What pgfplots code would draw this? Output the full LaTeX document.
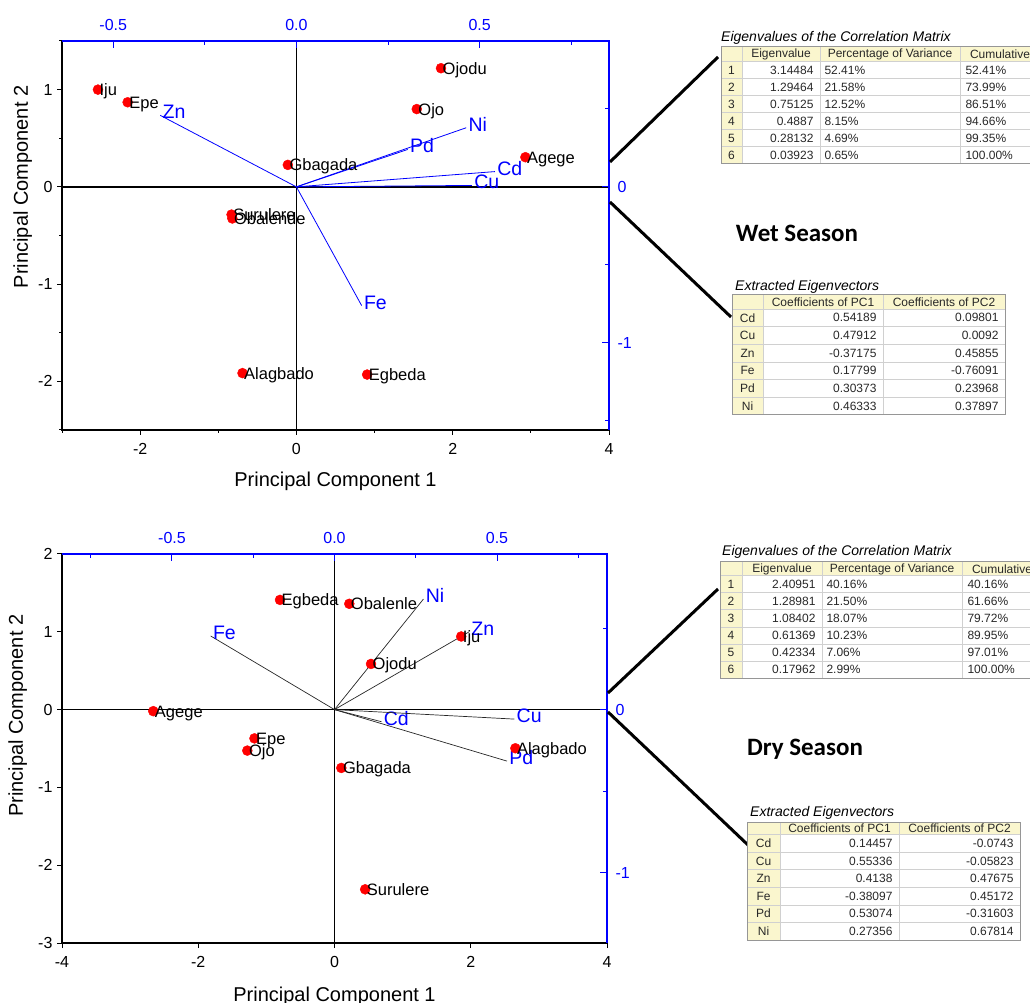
\documentclass[border=0pt]{standalone}
\usepackage{fontspec}
\setmainfont{Liberation Sans}
\newfontfamily\carlito{Carlito}
\usepackage{pgfplots}
\pgfplotsset{compat=1.18}
\definecolor{cream}{RGB}{250,246,206}
\definecolor{gridc}{RGB}{208,208,208}
\definecolor{borderc}{RGB}{150,150,150}
\definecolor{tabtext}{RGB}{40,40,40}

\newcommand\tickfont{\fontsize{16}{18}\selectfont}
\newcommand\labfont{\fontsize{20}{24}\selectfont}
\newcommand\ptfont{\fontsize{16.5}{19}\selectfont}
\newcommand\elfont{\fontsize{19.5}{22}\selectfont}
\newcommand\tabfont{\fontsize{12}{14}\selectfont}
\newcommand\tabtitle{\fontsize{14}{16}\selectfont\itshape}

\tikzset{el/.style={anchor=base west, inner sep=0pt, font=\elfont, text=blue, xshift=2pt, yshift=-3.5pt}}
\pgfplotsset{
  biplot/.style={anchor=south west, scale only axis, axis line style={draw=none},
    tick label style={font=\tickfont},
    /pgf/number format/assume math mode=true, clip=false},
  scores/.style={xtick pos=bottom, ytick pos=left, tick align=outside,
    major tick length=5pt, minor tick length=3pt,
    tick style={black, line width=1pt},
    xticklabel style={yshift=-5pt},
    yticklabel style={xshift=-1pt},
    xlabel={Principal Component 1}, ylabel={Principal Component 2}},
  loads/.style={xtick pos=top, ytick pos=right, tick align=inside,
    major tick length=7pt, minor tick length=4pt,
    tick style={blue, line width=1pt},
    tick label style={text=blue},
    xticklabel style={yshift=7pt, /pgf/number format/.cd, fixed, fixed zerofill, precision=1},
    yticklabel style={xshift=5pt}},
  pts/.style={only marks, mark=*, mark size=5pt, color=red,
    nodes near coords, point meta=explicit symbolic,
    nodes near coords style={anchor=base west, inner sep=0pt, xshift=1.5pt, yshift=-6pt,
      font=\ptfont, text=black}},
}

\begin{document}
\begin{tikzpicture}
\path[use as bounding box] (0,0) rectangle (1030pt,1002pt);

%================ WET SEASON ================
\begin{axis}[biplot, scores,
  at={(62pt,572pt)}, width=547pt, height=389pt,
  xmin=-3, xmax=4, ymin=-2.5, ymax=1.5,
  xtick={-2,0,2,4}, minor xtick={-3,-1,1,3},
  ytick={-2,-1,0,1}, minor ytick={-2.5,-1.5,-0.5,0.5,1.5},
  every axis x label/.style={at={([yshift=-57pt]rel axis cs:0.5,0)}, anchor=base, font=\labfont},
  every axis y label/.style={at={([xshift=-34pt]rel axis cs:0,0.625)}, rotate=90, anchor=base, font=\labfont},
]
\draw[black, line width=1.3pt] (rel axis cs:0,1) -- (rel axis cs:0,0) -- (rel axis cs:1,0);
\draw[black, line width=1.3pt] (axis cs:-3,0) -- (axis cs:4,0);
\draw[black, line width=1.3pt] (axis cs:0,-2.5) -- (axis cs:0,1.5);
\end{axis}

\begin{axis}[biplot, loads,
  at={(62pt,572pt)}, width=547pt, height=389pt,
  xmin=-0.6398, xmax=0.8531, ymin=-1.5586, ymax=0.9352,
  xtick={-0.5,0,0.5}, minor xtick={-0.25,0.25,0.75},
  ytick={-1,0}, minor ytick={-1.5,-0.5,0.5},
]
\draw[blue, line width=1.3pt] (rel axis cs:0,1) -- (rel axis cs:1,1) -- (rel axis cs:1,0);
\addplot[blue, line width=0.8pt] coordinates {(0,0) (0.54189,0.09801)} node[pos=1, el] {Cd};
\addplot[blue, line width=0.8pt] coordinates {(0,0) (0.47912,0.0092)} node[pos=1, el] {Cu};
\addplot[blue, line width=0.8pt] coordinates {(0,0) (-0.37175,0.45855)} node[pos=1, el] {Zn};
\addplot[blue, line width=0.8pt] coordinates {(0,0) (0.17799,-0.76091)} node[pos=1, el] {Fe};
\addplot[blue, line width=0.8pt] coordinates {(0,0) (0.30373,0.23968)} node[pos=1, el] {Pd};
\addplot[blue, line width=0.8pt] coordinates {(0,0) (0.46333,0.37897)} node[pos=1, el] {Ni};
\end{axis}

\begin{axis}[biplot,
  at={(62pt,572pt)}, width=547pt, height=389pt,
  xmin=-3, xmax=4, ymin=-2.5, ymax=1.5, hide axis]
\addplot[pts] table[x=x, y=y, meta=label] {
x y label
-2.54 1.00 Iju
-2.16 0.87 Epe
-0.11 0.226 Gbagada
1.85 1.22 Ojodu
1.54 0.80 Ojo
2.93 0.305 Agege
-0.83 -0.285 Surulere
-0.82 -0.325 Obalende
-0.69 -1.915 Alagbado
0.905 -1.93 Egbeda
};
\end{axis}

%================ DRY SEASON ================
\begin{axis}[biplot, scores,
  at={(62pt,59pt)}, width=545pt, height=389pt,
  xmin=-4, xmax=4, ymin=-3, ymax=2,
  xtick={-4,-2,0,2,4},
  ytick={-3,-2,-1,0,1,2},
  every axis x label/.style={at={([yshift=-58pt]rel axis cs:0.5,0)}, anchor=base, font=\labfont},
  every axis y label/.style={at={([xshift=-39pt]rel axis cs:0,0.584)}, rotate=90, anchor=base, font=\labfont},
]
\draw[black, line width=1.3pt] (rel axis cs:0,1) -- (rel axis cs:0,0) -- (rel axis cs:1,0);
\draw[black, line width=1.3pt] (axis cs:-4,0) -- (axis cs:4,0);
\draw[black, line width=1.3pt] (axis cs:0,-3) -- (axis cs:0,2);
\end{axis}

\begin{axis}[biplot, loads,
  at={(62pt,59pt)}, width=545pt, height=389pt,
  xmin=-0.8384, xmax=0.8384, ymin=-1.432, ymax=0.9547,
  xtick={-0.5,0,0.5}, minor xtick={-0.75,-0.25,0.25,0.75},
  ytick={-1,0}, minor ytick={-0.5,0.5},
]
\draw[blue, line width=1.3pt] (rel axis cs:0,1) -- (rel axis cs:1,1) -- (rel axis cs:1,0);
\addplot[black!85, line width=0.7pt] coordinates {(0,0) (0.14457,-0.0743)} node[pos=1, el] {Cd};
\addplot[black!85, line width=0.7pt] coordinates {(0,0) (0.55336,-0.05823)} node[pos=1, el] {Cu};
\addplot[black!85, line width=0.7pt] coordinates {(0,0) (0.4138,0.47675)} node[pos=1, el] {Zn};
\addplot[black!85, line width=0.7pt] coordinates {(0,0) (-0.38097,0.45172)} node[pos=1, el] {Fe};
\addplot[black!85, line width=0.7pt] coordinates {(0,0) (0.53074,-0.31603)} node[pos=1, el] {Pd};
\addplot[black!85, line width=0.7pt] coordinates {(0,0) (0.27356,0.67814)} node[pos=1, el] {Ni};
\end{axis}

\begin{axis}[biplot,
  at={(62pt,59pt)}, width=545pt, height=389pt,
  xmin=-4, xmax=4, ymin=-3, ymax=2, hide axis]
\addplot[pts] table[x=x, y=y, meta=label] {
x y label
-0.80 1.41 Egbeda
0.217 1.36 Obalenle
1.86 0.94 Iju
0.536 0.587 Ojodu
-2.66 -0.02 Agege
-1.175 -0.37 Epe
-1.28 -0.527 Ojo
0.10 -0.75 Gbagada
0.45 -2.31 Surulere
2.655 -0.497 Alagbado
};
\end{axis}

%================ TABLES AND TEXT (image pixel coordinates, y downward) ================
\begin{scope}[shift={(0pt,1002pt)}, x=1pt, y=-1pt]
% connectors
\draw[black, line width=3pt] (610,162) -- (718,57);
\draw[black, line width=3pt] (610,202) -- (731,317);
\draw[black, line width=3pt] (608,693) -- (718,589);
\draw[black, line width=3pt] (608,712) -- (748,845);

% season labels
\node[font=\carlito\bfseries\fontsize{25}{28}\selectfont] at (797,233) {Wet Season};
\node[font=\carlito\bfseries\fontsize{25}{28}\selectfont] at (805,749) {Dry Season};

% ---- Wet eigenvalue table ----
\node[anchor=base west, font=\tabtitle, inner sep=0pt] at (721,42) {Eigenvalues of the Correlation Matrix};
\fill[cream] (721,47) rectangle (1040,61.5);
\fill[cream] (721,61.5) rectangle (742,163.5);
\foreach \i in {1,...,5} \draw[gridc] (721,61.5+17*\i) -- (1040,61.5+17*\i);
\draw[gridc] (721,61.5) -- (1040,61.5);
\foreach \c in {742,820,960} \draw[gridc] (\c,47) -- (\c,163.5);
\draw[borderc, line width=1pt] (721,47) rectangle (1040,163.5);
\node[font=\tabfont, text=tabtext] at (781,54.5) {Eigenvalue};
\node[font=\tabfont, text=tabtext] at (890,54.5) {Percentage of Variance};
\node[font=\tabfont, text=tabtext] at (1000,54.5) {Cumulative};
\foreach \ev/\pc/\cu [count=\i from 0] in {3.14484/52.41\%/52.41\%, 1.29464/21.58\%/73.99\%, 0.75125/12.52\%/86.51\%, 0.4887/8.15\%/94.66\%, 0.28132/4.69\%/99.35\%, 0.03923/0.65\%/100.00\%} {
  \pgfmathtruncatemacro\n{\i+1}
  \node[font=\tabfont, text=tabtext] at (731.5,70+17*\i) {\n};
  \node[font=\tabfont, text=tabtext, anchor=east] at (817,70+17*\i) {\ev};
  \node[font=\tabfont, text=tabtext, anchor=west] at (821,70+17*\i) {\pc};
  \node[font=\tabfont, text=tabtext, anchor=west] at (962,70+17*\i) {\cu};
}

% ---- Wet eigenvector table ----
\node[anchor=base west, font=\tabtitle, inner sep=0pt] at (735,291) {Extracted Eigenvectors};
\fill[cream] (732,295) rectangle (1005,309);
\fill[cream] (732,309) rectangle (763,415);
\foreach \i in {0,...,5} \draw[gridc] (732,309+17.67*\i) -- (1005,309+17.67*\i);
\foreach \c in {763,883} \draw[gridc] (\c,295) -- (\c,415);
\draw[borderc, line width=1pt] (732,295) rectangle (1005,415);
\node[font=\tabfont, text=tabtext] at (823,302) {Coefficients of PC1};
\node[font=\tabfont, text=tabtext] at (944,302) {Coefficients of PC2};
\foreach \el/\a/\b [count=\i from 0] in {Cd/0.54189/0.09801, Cu/0.47912/0.0092, Zn/-0.37175/0.45855, Fe/0.17799/-0.76091, Pd/0.30373/0.23968, Ni/0.46333/0.37897} {
  \node[font=\tabfont, text=tabtext] at (747.5,317.8+17.67*\i) {\el};
  \node[font=\tabfont, text=tabtext, anchor=east] at (880,317.8+17.67*\i) {\a};
  \node[font=\tabfont, text=tabtext, anchor=east] at (1002,317.8+17.67*\i) {\b};
}

% ---- Dry eigenvalue table ----
\node[anchor=base west, font=\tabtitle, inner sep=0pt] at (722,556) {Eigenvalues of the Correlation Matrix};
\fill[cream] (720,562) rectangle (1040,575.5);
\fill[cream] (720,575.5) rectangle (742,678);
\foreach \i in {0,...,5} \draw[gridc] (720,575.5+17.08*\i) -- (1040,575.5+17.08*\i);
\foreach \c in {742,822,962} \draw[gridc] (\c,562) -- (\c,678);
\draw[borderc, line width=1pt] (720,562) rectangle (1040,678);
\node[font=\tabfont, text=tabtext] at (782,569) {Eigenvalue};
\node[font=\tabfont, text=tabtext] at (892,569) {Percentage of Variance};
\node[font=\tabfont, text=tabtext] at (1002,569) {Cumulative};
\foreach \ev/\pc/\cu [count=\i from 0] in {2.40951/40.16\%/40.16\%, 1.28981/21.50\%/61.66\%, 1.08402/18.07\%/79.72\%, 0.61369/10.23\%/89.95\%, 0.42334/7.06\%/97.01\%, 0.17962/2.99\%/100.00\%} {
  \pgfmathtruncatemacro\n{\i+1}
  \node[font=\tabfont, text=tabtext] at (731,584+17.08*\i) {\n};
  \node[font=\tabfont, text=tabtext, anchor=east] at (819,584+17.08*\i) {\ev};
  \node[font=\tabfont, text=tabtext, anchor=west] at (823,584+17.08*\i) {\pc};
  \node[font=\tabfont, text=tabtext, anchor=west] at (964,584+17.08*\i) {\cu};
}

% ---- Dry eigenvector table ----
\node[anchor=base west, font=\tabtitle, inner sep=0pt] at (750,816) {Extracted Eigenvectors};
\fill[cream] (747,822) rectangle (1020,834.5);
\fill[cream] (747,834.5) rectangle (780,940);
\foreach \i in {0,...,5} \draw[gridc] (747,834.5+17.58*\i) -- (1020,834.5+17.58*\i);
\foreach \c in {780,899} \draw[gridc] (\c,822) -- (\c,940);
\draw[borderc, line width=1pt] (747,822) rectangle (1020,940);
\node[font=\tabfont, text=tabtext] at (839.5,828.5) {Coefficients of PC1};
\node[font=\tabfont, text=tabtext] at (959.5,828.5) {Coefficients of PC2};
\foreach \el/\a/\b [count=\i from 0] in {Cd/0.14457/-0.0743, Cu/0.55336/-0.05823, Zn/0.4138/0.47675, Fe/-0.38097/0.45172, Pd/0.53074/-0.31603, Ni/0.27356/0.67814} {
  \node[font=\tabfont, text=tabtext] at (763.5,843.3+17.58*\i) {\el};
  \node[font=\tabfont, text=tabtext, anchor=east] at (896,843.3+17.58*\i) {\a};
  \node[font=\tabfont, text=tabtext, anchor=east] at (1017,843.3+17.58*\i) {\b};
}
\end{scope}
\end{tikzpicture}
\end{document}
